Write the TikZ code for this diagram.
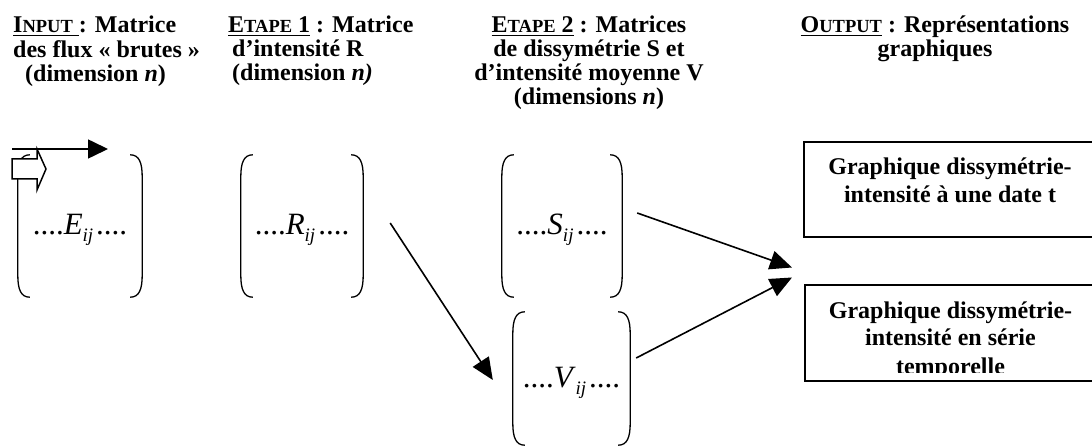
\documentclass[tikz,border=0pt]{standalone}
\usepackage{fontspec}
\setmainfont{Liberation Serif}
\usetikzlibrary{arrows.meta,calc}

% fake small capitals and a thick underline for the column titles
\newcommand\smc[1]{{\fontsize{18.5}{18.5}\selectfont #1}}
\newcommand\ulin[1]{\setbox0\hbox{#1}\rlap{\rule[-3.5pt]{\wd0}{1.7pt}}\box0\relax}
% a generic matrix element ....X_ij....
\newcommand\entry[1]{....\textit{#1}\raisebox{-7pt}{\fontsize{19}{19}\selectfont\textit{ij}}\hspace{3pt}....}

% tall round brackets around a matrix node
\newcommand\parens[1]{%
  \draw[paren] ($(#1.north west)+(12,0)$) .. controls ($(#1.north west)+(3,0)$) and ($(#1.north west)+(0,8)$) .. ($(#1.north west)+(0,22)$)
    -- ($(#1.south west)+(0,-22)$) .. controls ($(#1.south west)+(0,-8)$) and ($(#1.south west)+(3,0)$) .. ($(#1.south west)+(12,0)$);
  \draw[paren] ($(#1.north east)+(-12,0)$) .. controls ($(#1.north east)+(-3,0)$) and ($(#1.north east)+(0,8)$) .. ($(#1.north east)+(0,22)$)
    -- ($(#1.south east)+(0,-22)$) .. controls ($(#1.south east)+(0,-8)$) and ($(#1.south east)+(-3,0)$) .. ($(#1.south east)+(-12,0)$);}

\begin{document}
\begin{tikzpicture}[x=1pt,y=-1pt,
  title/.style={font=\fontsize{24}{24}\selectfont\bfseries, inner sep=0pt},
  mat/.style={inner sep=0pt, font=\fontsize{31}{31}\selectfont, text height=25pt, text depth=7pt},
  paren/.style={line width=1.3pt},
  conn/.style={line width=1.6pt, -{Triangle[length=22pt,width=19pt]}},
  outbox/.style={draw, line width=2pt, inner sep=0pt, font=\fontsize{24}{28}\selectfont\bfseries}]

\useasboundingbox (0,0) rectangle (1092,446);

% column titles
\node[title, anchor=base west] (tin) at (13,33)
  {\begin{tabular}[t]{@{}l@{}}\ulin{I\smc{NPUT} }: Matrice\\des flux « brutes »\\\hspace{12pt}(dimension \textit{n})\end{tabular}};
\node[title, anchor=base west] (tet1) at (228,33)
  {\begin{tabular}[t]{@{}l@{}}\ulin{E\smc{TAPE} 1} : Matrice\\\hspace{4pt}d’intensité R\\\hspace{4pt}(dimension \textit{n)}\end{tabular}};
\node[title, anchor=base] (tet2) at (589,33)
  {\begin{tabular}[t]{@{}c@{}}\ulin{E\smc{TAPE} 2} : Matrices\\de dissymétrie S et\\d’intensité moyenne V\\(dimensions \textit{n})\end{tabular}};
\node[title, anchor=base] (tout) at (935,33)
  {\begin{tabular}[t]{@{}c@{}}\ulin{O\smc{UTPUT}} : Représentations\\graphiques\end{tabular}};

% matrices
\node[mat, minimum width=124pt, minimum height=142pt] (E) at (80,226) {\entry{E}};
\node[mat, minimum width=122pt, minimum height=142pt] (R) at (302,226) {\entry{R}};
\node[mat, minimum width=120pt, minimum height=142pt] (S) at (562,226) {\entry{S}};
\node[mat, minimum width=117pt, minimum height=133pt] (V) at (571.5,378.5) {\entry{V}};
\parens{E}
\parens{R}
\parens{S}
\parens{V}

% arrows in the upper left corner
\coordinate (la) at (12,149);
\coordinate (lb) at (108,149);
\draw[line width=1.6pt, -{Triangle[length=20pt,width=19pt]}] (la) -- (lb);
\draw[line width=1.5pt, fill=white, line join=miter]
  (12,159) -- (37,159) -- (37,149) -- (46,169) -- (37,190) -- (37,179) -- (12,179) -- cycle;

% output boxes
\node[outbox, minimum width=292pt, minimum height=95pt, text height=18pt, text depth=47pt] (G1) at (950,189.5)
  {\begin{tabular}[t]{@{}c@{}}Graphique dissymétrie-\\intensité à une date t\end{tabular}};
\node[outbox, minimum width=292pt, minimum height=96pt, text height=18pt, text depth=48pt] (G2) at (950.5,333)
  {\begin{tabular}[t]{@{}c@{}}Graphique dissymétrie-\\intensité en série\\temporelle\end{tabular}};
\fill[white] (806,372.5) rectangle (1091,380);

% connectors
\coordinate (gap) at (792,272.5);
\draw[conn] ($(R.east)+(27,-3)$) -- ($(V.west)+(-20,1.5)$);
\draw[conn] ($(S.east)+(15,-13)$) -- ($(gap)+(0,-5)$);
\draw[conn] ($(V.east)+(6,-20.5)$) -- ($(gap)+(0,5)$);
\end{tikzpicture}
\end{document}
